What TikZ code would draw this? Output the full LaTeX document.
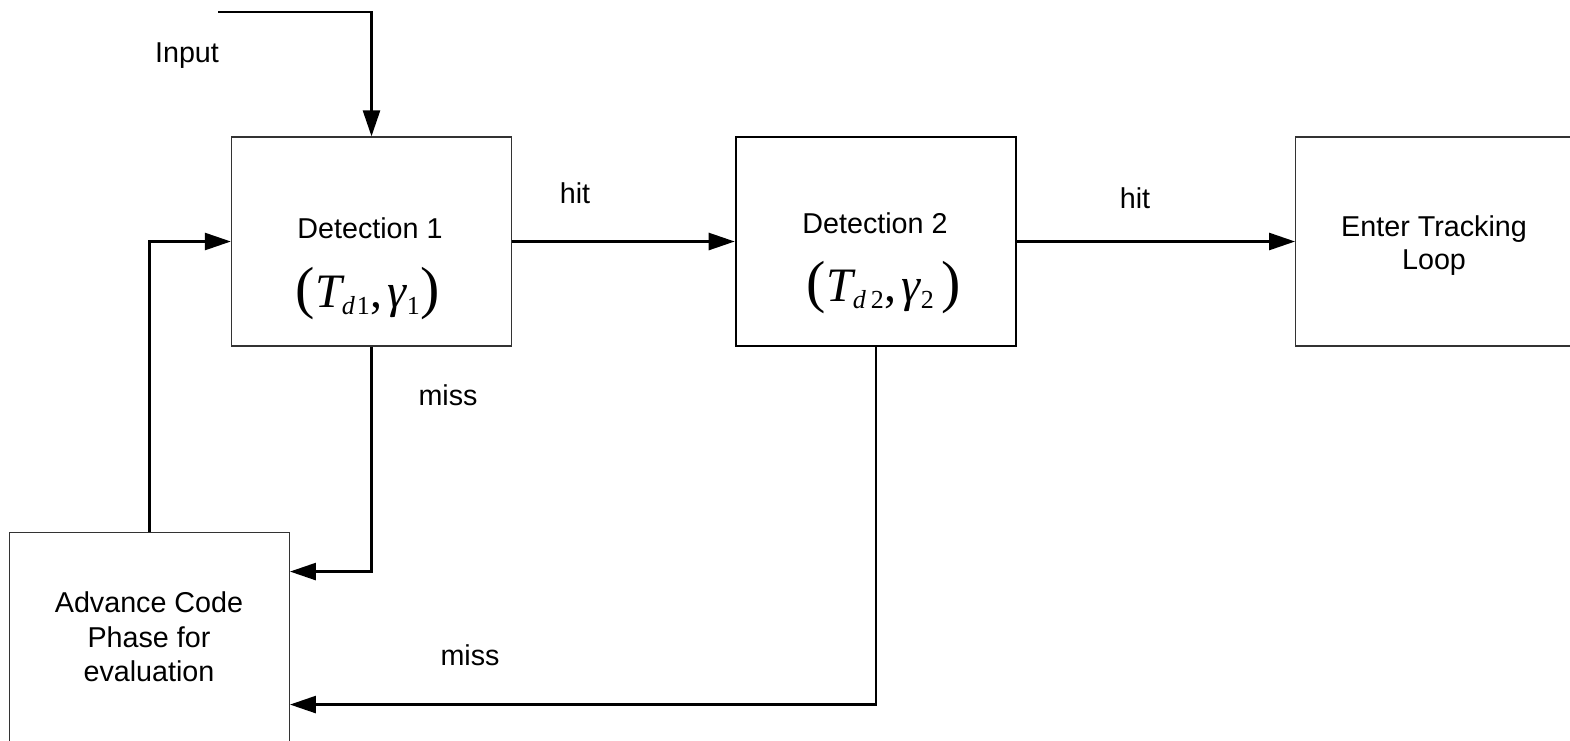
\documentclass[tikz,border=0pt]{standalone}
\usepackage{fontspec}
\setmainfont{Liberation Sans}
\newfontfamily\tmsfont{Liberation Serif}
\usetikzlibrary{arrows.meta,calc}

% (T_{d n}, gamma_n) set in a Times-like face
% #1 index, #2 gap between d and index, #3 gap before the closing parenthesis
\newcommand\tdpair[3]{{\tmsfont
  \fontsize{58}{58}\selectfont(%
  \fontsize{48}{48}\selectfont\itshape T%
  \raisebox{-7pt}{\fontsize{26}{26}\selectfont\itshape d\kern#2\upshape #1}%
  \kern1pt\upshape\fontsize{48}{48}\selectfont,\kern5pt\itshape γ%
  \raisebox{-7pt}{\fontsize{26}{26}\selectfont\upshape #1}\kern#3
  \upshape\fontsize{58}{58}\selectfont)}}

\begin{document}
\begin{tikzpicture}[x=1pt,y=-1pt,
  every node/.style={font=\fontsize{28.7}{33}\selectfont, text=black},
  blockbox/.style={draw=black!80, line width=1.3pt, minimum width=280pt,
    minimum height=209pt, inner sep=0pt},
  arr/.style={draw=black, line width=2.6pt,
    -{Triangle[length=26pt,width=17pt]}},
  lbl/.style={anchor=base, inner sep=0pt}]
\useasboundingbox (0,0) rectangle (1570,740);
\clip (0,0) rectangle (1570,740);

% blocks
\node[blockbox] (d1) at (371.5,241.5) {};
\node[blockbox, draw=black, line width=2.6pt] (d2) at (876,241.5) {};
\node[blockbox] (trk) at (1435.7,241.5) {};
\node[blockbox] (adv) at (149.3,636.7) {};

% block texts
\node[lbl] (d1a) at (370,238) {Detection 1};
\node[lbl] (d1b) at (368,307) {\tdpair{1}{2pt}{1pt}};
\node[lbl] (d2a) at (875,233) {Detection 2};
\node[lbl] (d2b) at (884,301) {\tdpair{2}{5pt}{8pt}};
\node[align=center, inner sep=0pt] (trkt) at (1434,246) {Enter Tracking\\Loop};
\node[align=center, inner sep=0pt, font=\fontsize{28.7}{34.5}\selectfont]
  (advt) at (149,637) {Advance Code\\Phase for\\evaluation};

% connectors
\coordinate (inp) at (218,12);
\draw[arr] (inp) -| (d1.north);
\draw[arr] (adv.north) |- (d1.west);
\draw[arr] (d1.east) -- (d2.west);
\draw[arr] (d2.east) -- (trk.west);
\draw[arr] (d1.south) |- ([yshift=-40pt]adv.north east);
\draw[arr] (d2.south) |- ([yshift=-173pt]adv.north east);

% connector labels
\node[lbl] (linp) at (187,62) {Input};
\node[lbl] (lhit1) at (575,203) {hit};
\node[lbl] (lhit2) at (1135,208) {hit};
\node[lbl] (lmiss1) at (448,405) {miss};
\node[lbl] (lmiss2) at (470,665) {miss};
\end{tikzpicture}
\end{document}
